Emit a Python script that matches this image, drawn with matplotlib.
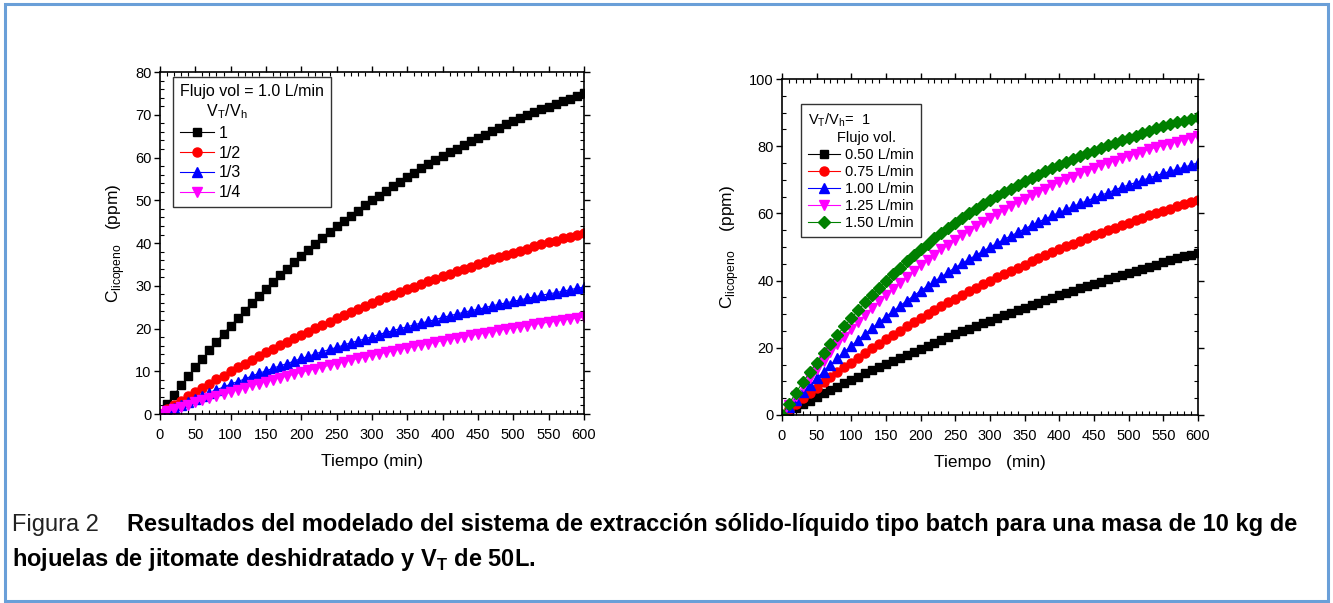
import matplotlib
matplotlib.use('Agg')
import matplotlib.pyplot as plt
from matplotlib.patches import Rectangle
from matplotlib.ticker import MultipleLocator

plt.rcParams['font.family'] = ['Liberation Sans', 'DejaVu Sans']
plt.rcParams['mathtext.fontset'] = 'custom'
plt.rcParams['mathtext.rm'] = 'Liberation Sans'
plt.rcParams['mathtext.bf'] = 'Liberation Sans:bold'

# tiempo (min), un punto cada 10 min
tiempo = list(range(0, 601, 10))

# --- izquierda: flujo vol = 1.0 L/min, distintos V_T/V_h ---
vtvh_labels = ['1', '1/2', '1/3', '1/4']
c_vtvh_1 = [0, 2.3, 4.5, 6.7, 8.8, 10.9, 12.9, 14.9, 16.9, 18.8, 20.6, 22.4, 24.2, 25.9, 27.6,
            29.3, 30.9, 32.5, 34.0, 35.5, 37.0, 38.4, 39.8, 41.2, 42.6, 43.9, 45.2, 46.4, 47.6,
            48.8, 50.0, 51.1, 52.3, 53.3, 54.4, 55.4, 56.5, 57.5, 58.4, 59.4, 60.3, 61.2, 62.1,
            63.0, 63.8, 64.6, 65.4, 66.2, 67.0, 67.8, 68.5, 69.2, 69.9, 70.6, 71.3, 71.9, 72.6,
            73.2, 73.8, 74.4, 75.0]
c_vtvh_2 = [0, 1.1, 2.1, 3.1, 4.2, 5.2, 6.2, 7.1, 8.1, 9.0, 10.0, 10.9, 11.8, 12.7, 13.5, 14.4,
            15.3, 16.1, 16.9, 17.7, 18.5, 19.3, 20.1, 20.9, 21.6, 22.4, 23.1, 23.8, 24.5, 25.2,
            25.9, 26.6, 27.3, 27.9, 28.6, 29.2, 29.8, 30.5, 31.1, 31.7, 32.3, 32.8, 33.4, 34.0,
            34.5, 35.1, 35.6, 36.2, 36.7, 37.2, 37.7, 38.2, 38.7, 39.2, 39.7, 40.2, 40.6, 41.1,
            41.5, 42.0, 42.4]
c_vtvh_3 = [0, 0.7, 1.5, 2.2, 2.9, 3.6, 4.3, 5.0, 5.7, 6.3, 7.0, 7.6, 8.2, 8.9, 9.5, 10.1, 10.7,
            11.3, 11.8, 12.4, 13.0, 13.5, 14.1, 14.6, 15.1, 15.6, 16.1, 16.7, 17.1, 17.6, 18.1,
            18.6, 19.1, 19.5, 20.0, 20.4, 20.9, 21.3, 21.7, 22.1, 22.6, 23.0, 23.4, 23.8, 24.2,
            24.5, 24.9, 25.3, 25.7, 26.0, 26.4, 26.7, 27.1, 27.4, 27.8, 28.1, 28.4, 28.7, 29.1,
            29.4, 29.7]
c_vtvh_4 = [0, 0.6, 1.1, 1.7, 2.2, 2.7, 3.2, 3.7, 4.2, 4.7, 5.2, 5.7, 6.2, 6.7, 7.1, 7.6, 8.0,
            8.5, 8.9, 9.3, 9.8, 10.2, 10.6, 11.0, 11.4, 11.8, 12.2, 12.6, 13.0, 13.4, 13.7, 14.1,
            14.4, 14.8, 15.2, 15.5, 15.8, 16.2, 16.5, 16.8, 17.2, 17.5, 17.8, 18.1, 18.4, 18.7,
            19.0, 19.3, 19.6, 19.9, 20.1, 20.4, 20.7, 21.0, 21.2, 21.5, 21.7, 22.0, 22.2, 22.5,
            22.7]

# --- derecha: V_T/V_h = 1, distintos flujos ---
flujo_labels = ['0.50 L/min', '0.75 L/min', '1.00 L/min', '1.25 L/min', '1.50 L/min']
c_f050 = [0, 1.1, 2.2, 3.2, 4.3, 5.4, 6.4, 7.4, 8.4, 9.4, 10.4, 11.4, 12.4, 13.3, 14.3, 15.2,
          16.1, 17.1, 18.0, 18.9, 19.7, 20.6, 21.5, 22.4, 23.2, 24.0, 24.9, 25.7, 26.5, 27.3,
          28.1, 28.9, 29.7, 30.4, 31.2, 32.0, 32.7, 33.4, 34.2, 34.9, 35.6, 36.3, 37.0, 37.7,
          38.4, 39.0, 39.7, 40.4, 41.0, 41.7, 42.3, 42.9, 43.6, 44.2, 44.8, 45.4, 46.0, 46.6,
          47.2, 47.7, 48.3]
c_f075 = [0, 1.7, 3.3, 5.0, 6.6, 8.1, 9.7, 11.2, 12.7, 14.2, 15.6, 17.1, 18.5, 19.8, 21.2, 22.5,
          23.8, 25.1, 26.4, 27.6, 28.8, 30.0, 31.2, 32.4, 33.5, 34.6, 35.7, 36.8, 37.9, 38.9,
          39.9, 41.0, 42.0, 42.9, 43.9, 44.8, 45.8, 46.7, 47.6, 48.5, 49.3, 50.2, 51.0, 51.9,
          52.7, 53.5, 54.3, 55.0, 55.8, 56.5, 57.3, 58.0, 58.7, 59.4, 60.1, 60.7, 61.4, 62.1,
          62.7, 63.3, 63.9]
c_f100 = c_vtvh_1
c_f125 = [0, 2.9, 5.7, 8.5, 11.1, 13.7, 16.2, 18.7, 21.0, 23.3, 25.5, 27.7, 29.8, 31.9, 33.8,
          35.8, 37.6, 39.4, 41.2, 42.9, 44.6, 46.2, 47.7, 49.3, 50.7, 52.2, 53.6, 54.9, 56.2,
          57.5, 58.7, 59.9, 61.1, 62.2, 63.3, 64.4, 65.4, 66.4, 67.4, 68.4, 69.3, 70.2, 71.0,
          71.9, 72.7, 73.5, 74.3, 75.0, 75.7, 76.4, 77.1, 77.8, 78.4, 79.1, 79.7, 80.3, 80.8,
          81.4, 81.9, 82.5, 83.0]
c_f150 = [0, 3.3, 6.6, 9.7, 12.7, 15.6, 18.5, 21.2, 23.8, 26.4, 28.8, 31.2, 33.5, 35.7, 37.9,
          39.9, 42.0, 43.9, 45.8, 47.6, 49.3, 51.0, 52.7, 54.3, 55.8, 57.3, 58.7, 60.1, 61.4,
          62.7, 63.9, 65.1, 66.3, 67.4, 68.5, 69.6, 70.6, 71.6, 72.5, 73.4, 74.3, 75.3, 76.2,
          77.1, 77.9, 78.7, 79.6, 80.4, 81.1, 81.9, 82.6, 83.2, 83.9, 84.6, 85.3, 85.9, 86.5,
          87.1, 87.6, 88.1, 88.7]

colores = ['#000000', '#FF0000', '#0000FF', '#FF00FF', '#008000']
marcadores = ['s', 'o', '^', 'v', 'D']
tamanos = [6, 6.5, 7, 7, 6]

fig = plt.figure(figsize=(13.33, 6.03), dpi=100)

# marco azul de la figura
fig.patches.append(Rectangle((0.004, 0.004), 0.992, 0.99, transform=fig.transFigure,
                             fill=False, edgecolor='#6A9FD8', linewidth=2.2))

ax1 = fig.add_axes([0.120, 0.3134, 0.318, 0.567])
ax2 = fig.add_axes([0.5866, 0.3118, 0.3121, 0.557])


def estilo(ax, ymax, ymaj, ymin):
    ax.set_xlim(0, 600)
    ax.set_ylim(0, ymax)
    ax.xaxis.set_major_locator(MultipleLocator(50))
    ax.xaxis.set_minor_locator(MultipleLocator(10))
    ax.yaxis.set_major_locator(MultipleLocator(ymaj))
    ax.yaxis.set_minor_locator(MultipleLocator(ymin))
    ax.tick_params(which='major', direction='out', length=4, width=1, labelsize=10.5,
                   top=True, right=True, pad=2)
    ax.tick_params(axis='x', which='major', pad=6)
    ax.tick_params(which='minor', direction='in', length=3, width=0.8, top=True, right=True)
    for s in ax.spines.values():
        s.set_linewidth(1.2)


series_izq = [c_vtvh_1, c_vtvh_2, c_vtvh_3, c_vtvh_4]
for i, serie in enumerate(series_izq):
    ax1.plot(tiempo, serie, color=colores[i], marker=marcadores[i], markersize=tamanos[i],
             linewidth=0.8, label=vtvh_labels[i])
estilo(ax1, 80, 10, 2)
ax1.set_xlabel('Tiempo (min)', fontsize=12.5, labelpad=9)
ax1.set_ylabel('C$_{\\mathregular{licopeno}}$   (ppm)', fontsize=12.5, labelpad=6)
leg1 = ax1.legend(title='Flujo vol = 1.0 L/min\n      V$_\\mathregular{T}$/V$_\\mathregular{h}$',
                  loc='upper left', bbox_to_anchor=(0.031, 0.985), borderaxespad=0,
                  fontsize=11.5, title_fontsize=11.5,
                  frameon=True, fancybox=False, edgecolor='black', handlelength=2.1,
                  handletextpad=0.3, labelspacing=0.3, borderpad=0.45)
leg1.get_frame().set_linewidth(1.0)
leg1._legend_box.align = 'left'

series_der = [c_f050, c_f075, c_f100, c_f125, c_f150]
for i, serie in enumerate(series_der):
    ax2.plot(tiempo, serie, color=colores[i], marker=marcadores[i], markersize=tamanos[i],
             linewidth=0.8, label=flujo_labels[i])
estilo(ax2, 100, 20, 5)
ax2.set_xlabel('Tiempo   (min)', fontsize=12.5, labelpad=9)
ax2.set_ylabel('C$_{\\mathregular{licopeno}}$    (ppm)', fontsize=12.5, labelpad=6)
leg2 = ax2.legend(title='V$_\\mathregular{T}$/V$_\\mathregular{h}$=  1\n       Flujo vol.',
                  loc='upper left', bbox_to_anchor=(0.046, 0.926), borderaxespad=0,
                  fontsize=10.5, title_fontsize=10.5,
                  frameon=True, fancybox=False, edgecolor='black', handlelength=2.2,
                  handletextpad=0.3, labelspacing=0.2, borderpad=0.5)
leg2.get_frame().set_linewidth(1.0)
leg2._legend_box.align = 'left'

# pie de figura
fig.text(0.009, 0.119, 'Figura 2', fontsize=17, color='#222222', va='baseline')
fig.text(0.0953, 0.119, 'Resultados del modelado del sistema de extracción sólido-líquido tipo '
         'batch para una masa de 10 kg de', fontsize=17, fontweight='bold', va='baseline')
fig.text(0.009, 0.062, 'hojuelas de jitomate deshidratado y V$_\\mathbf{T}$ de 50L.',
         fontsize=17, fontweight='bold', va='baseline')

fig.savefig('out.png', dpi=100)
